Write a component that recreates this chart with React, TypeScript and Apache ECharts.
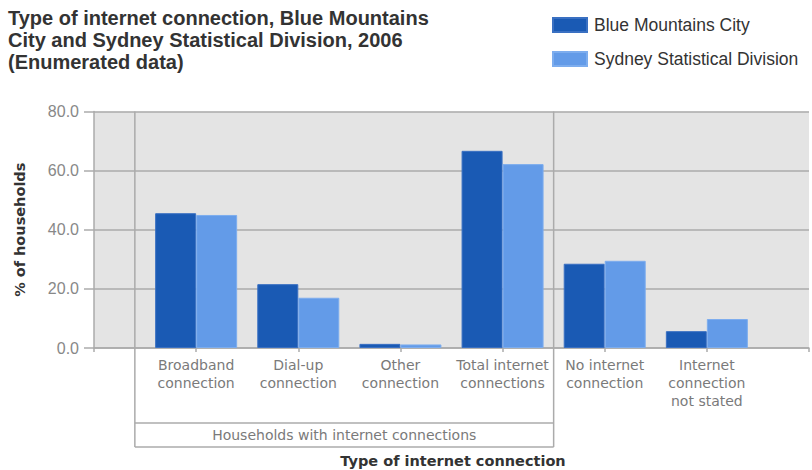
import React, { useEffect, useRef } from "react";
import * as echarts from "echarts";

const categories = [
  "",
  "Broadband\nconnection",
  "Dial-up\nconnection",
  "Other\nconnection",
  "Total internet\nconnections",
  "No internet\nconnection",
  "Internet\nconnection\nnot stated",
  "",
];
const blueMountains = [null, 45.6, 21.6, 1.4, 66.7, 28.5, 5.7, null];
const sydney = [null, 45.0, 17.0, 1.2, 62.2, 29.5, 9.8, null];
const seriesNames = ["Blue Mountains City", "Sydney Statistical Division"];
const groupLabel = "Households with internet connections";
const titleText =
  "Type of internet connection, Blue Mountains\nCity and Sydney Statistical Division, 2006\n(Enumerated data)";
const yName = "% of households";
const xName = "Type of internet connection";

const DARK = "#1a5ab4";
const LIGHT = "#639be8";
const LINE = "#ababab";

export default function App() {
  const ref = useRef<HTMLDivElement>(null);
  useEffect(() => {
    if (!ref.current) return;
    const chart = echarts.init(ref.current, null, { renderer: "svg", width: 812, height: 470 });
    chart.setOption({
      animation: false,
      backgroundColor: "#ffffff",
      title: {
        text: titleText,
        left: 8,
        top: 7,
        padding: 0,
        textStyle: {
          fontFamily: "Liberation Sans",
          fontWeight: "bold",
          fontSize: 20,
          lineHeight: 22,
          color: "#333333",
        },
      },
      legend: {
        orient: "vertical",
        left: 552,
        top: 16,
        padding: 0,
        itemWidth: 34,
        itemHeight: 14,
        itemGap: 16,
        icon: "rect",
        textStyle: {
          fontFamily: "Liberation Sans",
          fontSize: 17.5,
          color: "#333333",
          padding: [0, 0, 0, 2],
        },
        data: seriesNames,
      },
      grid: {
        left: 94,
        right: -2,
        top: 111.5,
        bottom: 122,
        show: true,
        backgroundColor: "#e4e4e4",
        borderWidth: 0,
      },
      xAxis: {
        type: "category",
        data: categories,
        boundaryGap: false,
        axisLine: { lineStyle: { color: LINE, width: 1.5 } },
        axisTick: { show: true, length: 4, lineStyle: { color: LINE, width: 1.5 } },
        axisLabel: {
          interval: 0,
          margin: 8,
          fontFamily: "DejaVu Sans",
          fontSize: 14,
          lineHeight: 18,
          color: "#7a7a7a",
        },
        splitLine: { show: false },
      },
      yAxis: {
        type: "value",
        min: 0,
        max: 80,
        interval: 20,
        name: yName,
        nameLocation: "middle",
        nameGap: 67,
        nameTextStyle: {
          fontFamily: "DejaVu Sans",
          fontWeight: "bold",
          fontSize: 14.5,
          color: "#333333",
        },
        axisLine: { show: true, lineStyle: { color: LINE, width: 1.5 } },
        axisTick: { show: true, length: 10, lineStyle: { color: LINE, width: 1.5 } },
        axisLabel: {
          margin: 15,
          fontFamily: "Liberation Sans",
          fontSize: 16,
          color: "#888888",
          formatter: (v: number) => v.toFixed(1),
        },
        splitLine: { show: true, lineStyle: { color: LINE, width: 1.5 } },
      },
      series: [
        {
          name: seriesNames[0],
          type: "bar",
          data: blueMountains,
          barWidth: 41,
          barGap: "0%",
          itemStyle: { color: DARK, borderColor: "#3a70c2", borderWidth: 1 },
        },
        {
          name: seriesNames[1],
          type: "bar",
          data: sydney,
          barWidth: 41,
          barGap: "0%",
          itemStyle: { color: LIGHT, borderColor: "#7dadee", borderWidth: 1 },
        },
      ],
    });

    const px = (c: string) => chart.convertToPixel({ xAxisIndex: 0 }, c) as number;
    const py = (v: number) => chart.convertToPixel({ yAxisIndex: 0 }, v) as number;
    const band = px(categories[2]) - px(categories[1]);
    const left = px(categories[1]) - 0.6 * band;
    const right = (px(categories[4]) + px(categories[5])) / 2;
    const top = py(80);
    const base = py(0);
    const midY = base + 75;
    const botY = base + 99;
    const ls = { stroke: LINE, lineWidth: 1.5 };
    chart.setOption({
      graphic: [
        { type: "line", shape: { x1: left, y1: top, x2: left, y2: botY }, style: ls, z: 10 },
        { type: "line", shape: { x1: right, y1: top, x2: right, y2: botY }, style: ls, z: 10 },
        { type: "line", shape: { x1: left, y1: midY, x2: right, y2: midY }, style: ls, z: 10 },
        { type: "line", shape: { x1: left, y1: botY, x2: right, y2: botY }, style: ls, z: 10 },
        {
          type: "text",
          x: (left + right) / 2,
          y: (midY + botY) / 2,
          style: {
            text: groupLabel,
            align: "center",
            verticalAlign: "middle",
            fontFamily: "DejaVu Sans",
            fontSize: 14,
            fill: "#7a7a7a",
          },
          z: 10,
        },
        {
          type: "text",
          x: 453,
          y: 461,
          style: {
            text: xName,
            align: "center",
            verticalAlign: "middle",
            fontFamily: "DejaVu Sans",
            fontWeight: "bold",
            fontSize: 14.5,
            fill: "#333333",
          },
          z: 10,
        },
      ],
    });
    return () => chart.dispose();
  }, []);
  return (
    <div
      ref={ref}
      style={{ position: "absolute", left: 0, top: 0, width: 812, height: 470 }}
    />
  );
}
